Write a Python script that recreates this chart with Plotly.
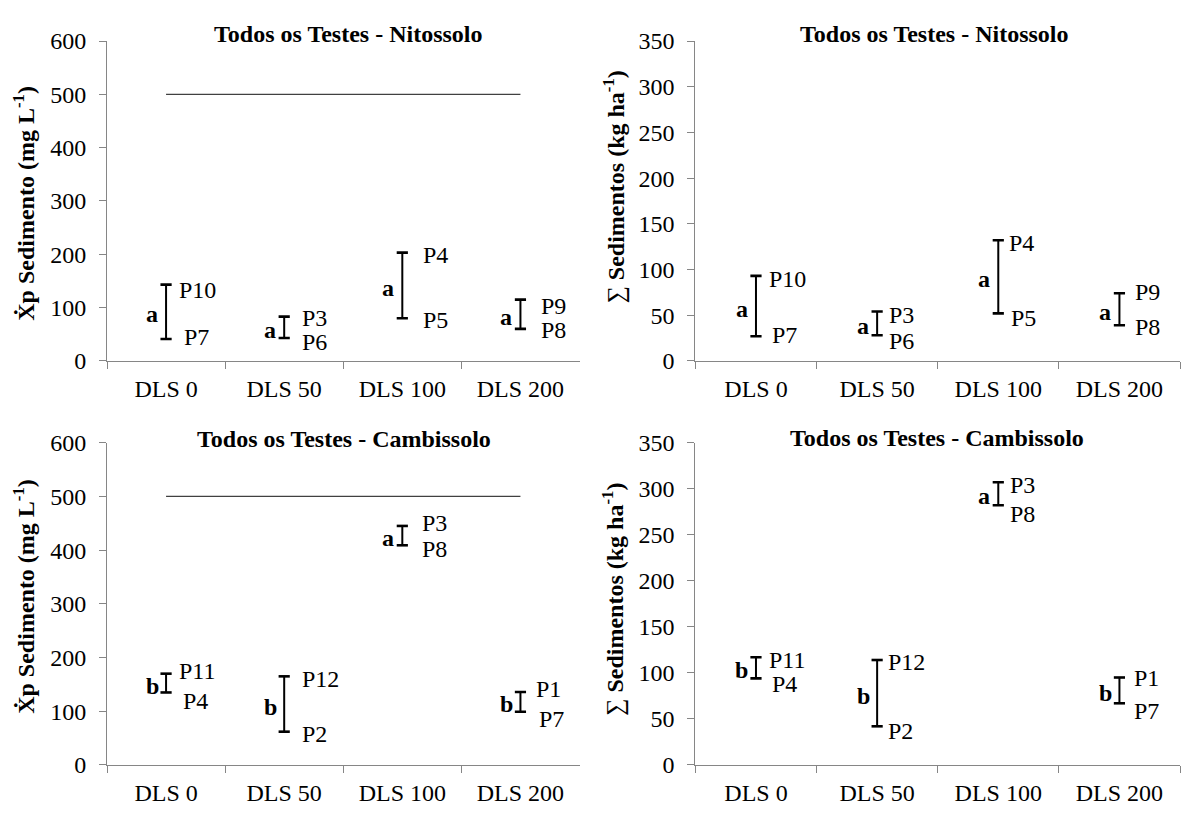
import plotly.graph_objects as go

# ---------------- data ----------------
categories = ["DLS 0", "DLS 50", "DLS 100", "DLS 200"]

nit_conc_top = [143, 83, 203, 115]
nit_conc_bot = [41, 43, 80, 60]
nit_sum_top = [93, 54, 132, 74]
nit_sum_bot = [27, 28, 52, 39]

cam_conc_top = [170, 165, 445, 136]
cam_conc_bot = [135, 62, 409, 99]
cam_sum_top = [117, 114, 307, 95]
cam_sum_bot = [94, 42, 282, 67]

nit_top_labels = ["P10", "P3", "P4", "P9"]
nit_bot_labels = ["P7", "P6", "P5", "P8"]
cam_top_labels = ["P11", "P12", "P3", "P1"]
cam_bot_labels = ["P4", "P2", "P8", "P7"]

nit_letters = ["a", "a", "a", "a"]
cam_letters = ["b", "b", "a", "b"]

limit_value = 500

title_nit = "Todos os Testes - Nitossolo"
title_cam = "Todos os Testes - Cambissolo"
ytitle_conc = "<b>Ẋp Sedimento (mg L<sup>-1</sup>)</b>"
ytitle_sum = "∑ <b>Sedimentos (kg ha<sup>-1</sup>)</b>"

# ---------------- style ----------------
W, H = 1181, 817
FONT = "Times New Roman, Liberation Serif, DejaVu Serif, serif"
AXCOL = "#868686"

def px(v, total):
    return v / total

panels = {
    "tl": (107, 579.5, 29, 359.3),
    "tr": (695.4, 1180, 29, 359.3),
    "bl": (107, 579.5, 443.8, 776.7),
    "br": (695.4, 1180, 443.8, 776.7),
}

lab_style = {
    "tl": dict(tdx=[11, 16, 19, 19], tdy=[-5, -1, -2.7, -6.6],
               bdx=[16, 16, 19, 19], bdy=[2, -4, -2.2, -1.6]),
    "tr": dict(tdx=[11, 10, 9, 14], tdy=[-2.8, -3, -2.3, 1],
               bdx=[14, 10, 11, 14], bdy=[1.3, -5.5, -5, -1.3]),
    "bl": dict(tdx=[11, 16, 18, 14], tdy=[3, -2.2, 3.3, 3.3],
               bdx=[15, 16, 18, 17], bdy=[-8.9, -2.2, -4, -7.2]),
    "br": dict(tdx=[11, 9, 10, 13], tdy=[-2.7, -1.7, -2.4, -0.7],
               bdx=[14, 9, 10, 13], bdy=[-6, -4.7, -9, -7.9]),
}

fig = go.Figure()
annotations = []

specs = [
    ("tl", "", nit_conc_top, nit_conc_bot, nit_top_labels, nit_bot_labels, nit_letters,
     600, 100, title_nit, ytitle_conc, True, (348, 22), (24, 197)),
    ("tr", "2", nit_sum_top, nit_sum_bot, nit_top_labels, nit_bot_labels, nit_letters,
     350, 50, title_nit, ytitle_sum, False, (934, 22), (614, 180)),
    ("bl", "3", cam_conc_top, cam_conc_bot, cam_top_labels, cam_bot_labels, cam_letters,
     600, 100, title_cam, ytitle_conc, True, (344, 440), (24, 603)),
    ("br", "4", cam_sum_top, cam_sum_bot, cam_top_labels, cam_bot_labels, cam_letters,
     350, 50, title_cam, ytitle_sum, False, (937, 439), (614, 606)),
]

layout_axes = {}
for key, sfx, top, bot, tl, bl, letters, ymax, dtick, title, ytitle, has_limit, tpos, ypos in specs:
    xref = "x" + sfx
    yref = "y" + sfx
    x0, x1, yt, yb = panels[key]

    if has_limit:
        fig.add_trace(go.Scatter(
            x=[categories[0], categories[-1]], y=[limit_value, limit_value],
            mode="lines", line=dict(color="#404040", width=1.2),
            xaxis=xref, yaxis=yref, showlegend=False, hoverinfo="skip"))

    xs, ys = [], []
    for c, t, b in zip(categories, top, bot):
        xs += [c, c, None]
        ys += [b, t, None]
    fig.add_trace(go.Scatter(
        x=xs, y=ys, mode="lines+markers",
        line=dict(color="black", width=2),
        marker=dict(symbol="line-ew", size=8, line=dict(color="black", width=2.6)),
        xaxis=xref, yaxis=yref, showlegend=False, hoverinfo="skip"))

    st = lab_style[key]
    for i, c in enumerate(categories):
        annotations.append(dict(
            x=c, y=top[i], xref=xref, yref=yref, text=tl[i], showarrow=False,
            xanchor="left", yanchor="middle", xshift=st["tdx"][i], yshift=st["tdy"][i],
            font=dict(family=FONT, size=24, color="black")))
        annotations.append(dict(
            x=c, y=bot[i], xref=xref, yref=yref, text=bl[i], showarrow=False,
            xanchor="left", yanchor="middle", xshift=st["bdx"][i], yshift=st["bdy"][i],
            font=dict(family=FONT, size=24, color="black")))
        annotations.append(dict(
            x=c, y=(top[i] + bot[i]) / 2, xref=xref, yref=yref,
            text="<b>%s</b>" % letters[i], showarrow=False,
            xanchor="center", yanchor="middle", xshift=-14, yshift=-2.5,
            font=dict(family=FONT, size=24, color="black")))

    annotations.append(dict(
        x=px(tpos[0], W), y=1 - px(tpos[1], H), xref="paper", yref="paper",
        text="<b>%s</b>" % title, showarrow=False, xanchor="center", yanchor="middle",
        font=dict(family=FONT, size=24, color="black")))
    annotations.append(dict(
        x=px(ypos[0], W), y=1 - px(ypos[1], H), xref="paper", yref="paper",
        text=ytitle, showarrow=False, xanchor="center", yanchor="middle",
        textangle=-90, font=dict(family=FONT, size=24, color="black")))

    xname = "xaxis" + sfx
    yname = "yaxis" + sfx
    layout_axes[xname] = dict(
        domain=[px(x0, W), px(x1, W)], anchor=yref, type="category",
        categoryorder="array", categoryarray=categories, range=[-0.5, 3.5],
        tickson="boundaries", ticks="outside", ticklen=7, tickcolor=AXCOL, tickwidth=1,
        showline=True, linecolor=AXCOL, linewidth=1, showgrid=False, zeroline=False,
        ticklabelstandoff=6,
        tickfont=dict(family=FONT, size=24, color="black"), fixedrange=True)
    layout_axes[yname] = dict(
        domain=[1 - px(yb, H), 1 - px(yt, H)], anchor=xref, range=[0, ymax], dtick=dtick,
        ticks="outside", ticklen=7, tickcolor=AXCOL, tickwidth=1,
        showline=True, linecolor=AXCOL, linewidth=1, showgrid=False, zeroline=False,
        ticklabelstandoff=8,
        tickfont=dict(family=FONT, size=24, color="black"), fixedrange=True)

fig.update_layout(
    width=W, height=H, margin=dict(l=0, r=0, t=0, b=0),
    paper_bgcolor="white", plot_bgcolor="white",
    font=dict(family=FONT, size=24, color="black"),
    showlegend=False, annotations=annotations, **layout_axes)

fig.write_html("out.html", config={"displayModeBar": False})
